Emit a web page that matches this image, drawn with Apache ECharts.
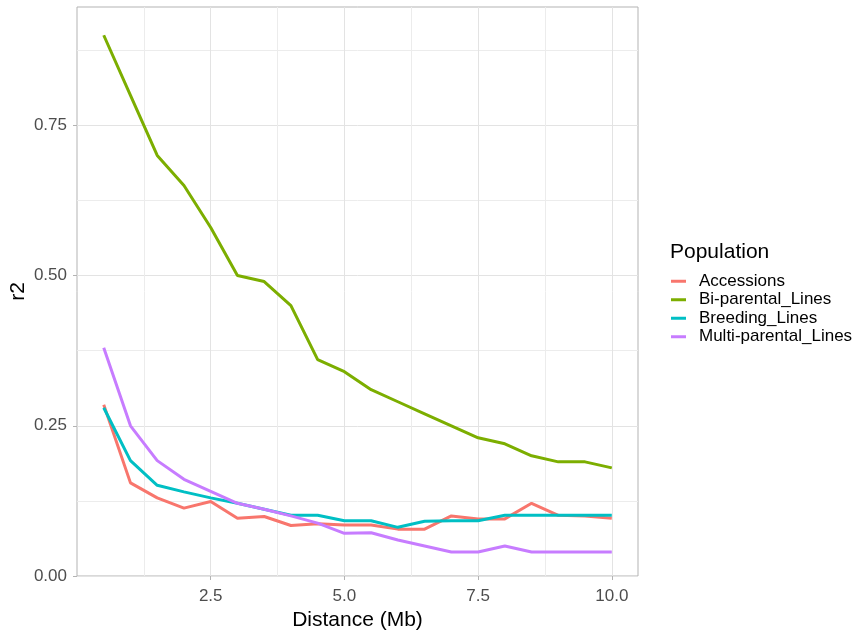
<!DOCTYPE html>
<html>
<head>
<meta charset="utf-8">
<script src="https://cdn.jsdelivr.net/npm/echarts@6/dist/echarts.min.js"></script>
<style>
  html, body { margin: 0; padding: 0; background: #fff; }
  #chart { width: 852px; height: 630px; }
</style>
</head>
<body>
<div id="chart"></div>
<script>
// distance (Mb) for every point
const distance = [0.5, 1, 1.5, 2, 2.5, 3, 3.5, 4, 4.5, 5, 5.5, 6, 6.5, 7, 7.5, 8, 8.5, 9, 9.5, 10]

const populations = ['Accessions', 'Bi-parental_Lines', 'Breeding_Lines', 'Multi-parental_Lines']

const accessions = [0.285, 0.155, 0.13, 0.113, 0.124, 0.096, 0.099, 0.084, 0.087, 0.085, 0.085, 0.078, 0.078, 0.100, 0.095, 0.095, 0.121, 0.101, 0.100, 0.096]
const biParental = [0.90, 0.80, 0.70, 0.65, 0.58, 0.50, 0.49, 0.45, 0.36, 0.34, 0.31, 0.29, 0.27, 0.25, 0.23, 0.22, 0.20, 0.19, 0.19, 0.18]
const breeding = [0.280, 0.192, 0.151, 0.140, 0.130, 0.121, 0.111, 0.101, 0.101, 0.092, 0.092, 0.081, 0.091, 0.092, 0.092, 0.101, 0.101, 0.101, 0.101, 0.101]
const multiParental = [0.38, 0.25, 0.192, 0.161, 0.141, 0.121, 0.111, 0.100, 0.088, 0.071, 0.072, 0.060, 0.050, 0.040, 0.040, 0.050, 0.040, 0.040, 0.040, 0.040]

const xTicks = [2.5, 5, 7.5, 10]
const yTicks = [0, 0.25, 0.5, 0.75]

// ggplot default hue palette
const colors = ['#F8766D', '#7CAE00', '#00BFC4', '#C77CFF']

const values = [accessions, biParental, breeding, multiParental]

const chart = echarts.init(document.getElementById('chart'))

const gridLine = { lineStyle: { color: '#e3e3e3', width: 1 } }

chart.setOption({
  animation: false,
  color: colors,
  textStyle: { fontFamily: 'Liberation Sans, Arial, sans-serif' },
  grid: {
    left: 77, right: 214, top: 7, bottom: 54,
    outerBoundsMode: 'none',
    containLabel: false,
    show: true, borderColor: '#b3b3b3', borderWidth: 1
  },
  title: {
    text: 'Population',
    left: 670, top: 242, padding: 0,
    textStyle: { fontSize: 21, fontWeight: 'normal', color: '#000' }
  },
  legend: {
    orient: 'vertical',
    left: 671, top: 272, padding: 0,
    itemGap: 0, itemWidth: 15, itemHeight: 3,
    icon: 'rect',
    data: populations,
    textStyle: { fontSize: 17, color: '#000', lineHeight: 18.5, padding: [0, 0, 0, 8] }
  },
  xAxis: {
    type: 'value',
    min: 0, max: 10.49, interval: 2.5,
    name: 'Distance (Mb)', nameLocation: 'middle', nameGap: 34,
    nameTextStyle: { fontSize: 21, color: '#000' },
    axisLine: { show: false },
    axisTick: { show: true, length: 4, customValues: xTicks, lineStyle: { color: '#b3b3b3' } },
    axisLabel: {
      fontSize: 17, color: '#4d4d4d', margin: 12,
      customValues: xTicks,
      formatter: v => v.toFixed(1)
    },
    splitLine: gridLine,
    minorTick: { show: false, splitNumber: 2 },
    minorSplitLine: { show: true, lineStyle: { color: '#ececec', width: 1 } }
  },
  yAxis: {
    type: 'value',
    min: 0, max: 0.947, interval: 0.25,
    name: 'r2', nameLocation: 'middle', nameGap: 48,
    nameMoveOverlap: false,
    nameTextStyle: { fontSize: 21, color: '#000' },
    axisLine: { show: false },
    axisTick: { show: true, length: 4, customValues: yTicks, lineStyle: { color: '#b3b3b3' } },
    axisLabel: {
      fontSize: 17, color: '#4d4d4d', margin: 10,
      customValues: yTicks,
      formatter: v => v.toFixed(2)
    },
    splitLine: gridLine,
    minorTick: { show: false, splitNumber: 2 },
    minorSplitLine: { show: true, lineStyle: { color: '#ececec', width: 1 } }
  },
  series: populations.map((name, i) => ({
    name: name,
    type: 'line',
    showSymbol: false,
    symbol: 'none',
    lineStyle: { width: 3 },
    data: distance.map((d, j) => [d, values[i][j]])
  }))
})
</script>
</body>
</html>
